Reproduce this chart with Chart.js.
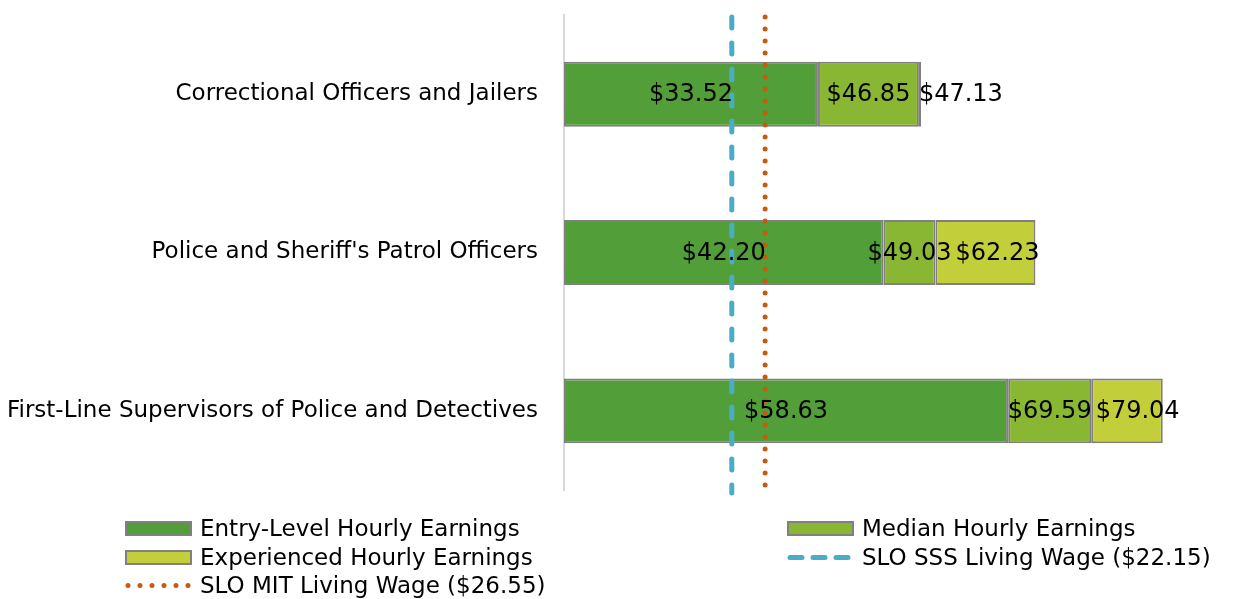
<!DOCTYPE html>
<html>
<head>
<meta charset="utf-8">
<script src="https://cdn.jsdelivr.net/npm/chart.js@4.4.1/dist/chart.umd.min.js"></script>
<style>
  body { margin: 0; background: #fff; }
  #wrap { position: relative; width: 1242px; height: 599px; }
  #chart { position: absolute; left: 0; top: 0; }
  .item { position: absolute; display: flex; align-items: center; font-family: 'DejaVu Sans', sans-serif; font-size: 23px; color: #000; white-space: nowrap; }
  .item svg { margin-right: 8px; }
</style>
</head>
<body>
<div id="wrap">
  <canvas id="chart" width="1242" height="599"></canvas>
  <div id="legend"></div>
</div>
<script>
const occupations = [
  'Correctional Officers and Jailers',
  "Police and Sheriff's Patrol Officers",
  'First-Line Supervisors of Police and Detectives',
];
const entryWage = [33.52, 42.20, 58.63];
const medianWage = [46.85, 49.03, 69.59];
const experiencedWage = [47.13, 62.23, 79.04];
const sssWage = 22.15;
const mitWage = 26.55;

const seriesNames = ['Entry-Level Hourly Earnings', 'Median Hourly Earnings', 'Experienced Hourly Earnings'];
const seriesColors = ['#529e38', '#8ab733', '#c3cf3a'];
const wageLevels = [entryWage, medianWage, experiencedWage];

// bars are stacked, so each segment is the step from the previous level
const steps = wageLevels.map((lvl, s) =>
  lvl.map((v, i) => (s === 0 ? v : v - wageLevels[s - 1][i]))
);

const labelFont = '24px "DejaVu Sans", sans-serif';

const livingWageLines = {
  id: 'livingWageLines',
  afterDatasetsDraw(chart) {
    const { ctx, chartArea, scales } = chart;
    const lines = [
      { v: sssWage, color: '#4bacc6', dash: [11, 15] },
      { v: mitWage, color: '#c55a11', dash: [0, 12] },
    ];
    ctx.save();
    ctx.lineCap = 'round';
    ctx.lineWidth = 5;
    lines.forEach((l) => {
      const x = scales.x.getPixelForValue(l.v);
      ctx.strokeStyle = l.color;
      ctx.setLineDash(l.dash);
      ctx.beginPath();
      ctx.moveTo(x, chartArea.top + 2);
      ctx.lineTo(x, chartArea.bottom + 3);
      ctx.stroke();
    });
    ctx.restore();
  },
};

const valueLabels = {
  id: 'valueLabels',
  afterDraw(chart) {
    const { ctx } = chart;
    ctx.save();
    ctx.font = labelFont;
    ctx.fillStyle = '#000';
    ctx.textBaseline = 'middle';
    ctx.textAlign = 'left';
    occupations.forEach((_, i) => {
      let prevRight = -Infinity;
      wageLevels.forEach((lvl, s) => {
        const bar = chart.getDatasetMeta(s).data[i];
        const text = '$' + lvl[i].toFixed(2);
        const w = ctx.measureText(text).width;
        let left = (bar.x + bar.base) / 2 - w / 2;
        // push a crowded label to the right, like Excel does
        if (left < prevRight + 2) left = Math.max(prevRight + 4, bar.base);
        ctx.fillText(text, left, bar.y + 1);
        prevRight = left + w;
      });
    });
    ctx.restore();
  },
};

new Chart(document.getElementById('chart'), {
  type: 'bar',
  data: {
    labels: occupations,
    datasets: steps.map((d, s) => ({
      label: seriesNames[s],
      data: d,
      backgroundColor: seriesColors[s],
      borderColor: '#808080',
      borderWidth: 2,
      borderSkipped: false,
      categoryPercentage: 0.41,
      barPercentage: 1,
    })),
  },
  plugins: [livingWageLines, valueLabels],
  options: {
    indexAxis: 'y',
    responsive: false,
    animation: false,
    layout: { padding: { top: 15, bottom: 109, left: 0, right: 0 } },
    plugins: {
      legend: { display: false },
      tooltip: { enabled: false },
    },
    scales: {
      x: { stacked: true, min: 0, max: 89.5, display: false },
      y: {
        stacked: true,
        grid: { display: false },
        border: { display: true, color: '#d9d9d9', width: 2 },
        ticks: { color: '#000', font: { family: 'DejaVu Sans', size: 23 }, padding: 18 },
        afterFit(scale) {
          scale.width = 564;
          scale.paddingTop = 0;
          scale.paddingBottom = 0;
        },
      },
    },
  },
});

// legend in two columns like the original
const legendItems = [
  { name: seriesNames[0], kind: 'box', color: seriesColors[0], left: 125, top: 528 },
  { name: seriesNames[1], kind: 'box', color: seriesColors[1], left: 787, top: 528 },
  { name: seriesNames[2], kind: 'box', color: seriesColors[2], left: 125, top: 557 },
  { name: 'SLO SSS Living Wage ($22.15)', kind: 'dash', color: '#4bacc6', left: 787, top: 557 },
  { name: 'SLO MIT Living Wage ($26.55)', kind: 'dot', color: '#c55a11', left: 125, top: 585 },
];
const legend = document.getElementById('legend');
legendItems.forEach((it) => {
  let sym;
  if (it.kind === 'box') {
    sym = `<rect x="1" y="1" width="65" height="13" fill="${it.color}" stroke="#808080" stroke-width="2"/>`;
  } else if (it.kind === 'dash') {
    sym = `<line x1="3" y1="7.5" x2="66" y2="7.5" stroke="${it.color}" stroke-width="5" stroke-linecap="round" stroke-dasharray="12 11"/>`;
  } else {
    sym = `<line x1="3" y1="7.5" x2="66" y2="7.5" stroke="${it.color}" stroke-width="5" stroke-linecap="round" stroke-dasharray="0 12"/>`;
  }
  const el = document.createElement('div');
  el.className = 'item';
  el.style.left = it.left + 'px';
  el.style.top = (it.top - 14) + 'px';
  el.style.height = '28px';
  el.innerHTML = `<svg width="67" height="15">${sym}</svg><span>${it.name}</span>`;
  legend.appendChild(el);
});
</script>
</body>
</html>
